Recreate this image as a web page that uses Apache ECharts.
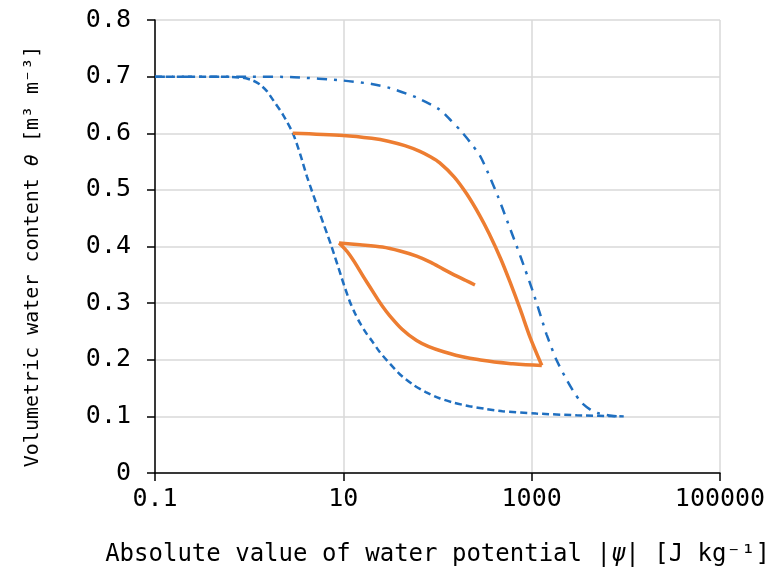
<!DOCTYPE html>
<html>
<head>
<meta charset="UTF-8">
<script src="https://cdn.jsdelivr.net/npm/echarts@6/dist/echarts.min.js"></script>
<style>
  html, body { margin: 0; padding: 0; background: #fff; }
  #chart { width: 777px; height: 570px; }
</style>
</head>
<body>
<div id="chart"></div>
<script>
// absolute water potential |psi| [J/kg] and water content theta [m3/m3]

// main wetting curve (dashed)
var wetPsi   = [0.1, 0.5, 0.86, 1.1, 1.3, 1.55, 1.79, 2.28, 2.91, 3.5, 4.1, 5.5, 7.5, 9.5, 10.5, 11.7, 13.2, 15, 17.5, 20, 24, 29, 40, 55, 75, 105, 150, 218, 330, 490, 1120, 3000, 9500];
var wetTheta = [0.7, 0.7, 0.698, 0.693, 0.686, 0.674, 0.659, 0.633, 0.600, 0.562, 0.524, 0.463, 0.400, 0.347, 0.325, 0.303, 0.283, 0.265, 0.247, 0.234, 0.215, 0.199, 0.174, 0.156, 0.143, 0.132, 0.124, 0.118, 0.113, 0.109, 0.105, 0.102, 0.100];

// main drying curve (dash-dot)
var dryPsi   = [0.1, 1, 3, 10, 20, 31, 60, 105, 140, 173, 220, 283, 340, 437, 550, 692, 850, 1023, 1276, 1445, 1841, 2400, 2857, 3400, 4200, 5000, 7000, 9300];
var dryTheta = [0.7, 0.7, 0.699, 0.693, 0.687, 0.680, 0.663, 0.642, 0.622, 0.606, 0.585, 0.560, 0.532, 0.489, 0.445, 0.401, 0.360, 0.322, 0.272, 0.244, 0.199, 0.162, 0.141, 0.124, 0.112, 0.106, 0.101, 0.100];

// scanning path (orange), in three legs: drying, wetting back, drying again
var scan1Psi   = [2.9, 10, 20, 30, 45, 65, 85, 105, 150, 204, 280, 355, 470, 590, 760, 955, 1280];
var scan1Theta = [0.600, 0.596, 0.591, 0.586, 0.578, 0.568, 0.558, 0.548, 0.523, 0.493, 0.455, 0.422, 0.378, 0.337, 0.288, 0.241, 0.190];
var scan2Psi   = [1280, 630, 300, 135, 60, 31, 17.8, 11.7, 9];
var scan2Theta = [0.190, 0.193, 0.199, 0.211, 0.234, 0.278, 0.337, 0.385, 0.406];
var scan3Psi   = [9, 15, 26, 40, 60, 85, 115, 150, 200, 250];
var scan3Theta = [0.406, 0.403, 0.399, 0.392, 0.383, 0.372, 0.360, 0.350, 0.340, 0.332];

var xTicks = [0.1, 10, 1000, 100000];
var yTicks = [0, 0.1, 0.2, 0.3, 0.4, 0.5, 0.6, 0.7, 0.8];

function pairs(px, th) {
  return px.map(function (p, i) { return [Math.log10(p), th[i]]; });
}

var font = 'DejaVu Sans Mono';
var blue = '#1F6FC0';
var orange = '#ED7D31';

function scanLeg(px, th, sm) {
  return {
    type: 'line',
    data: pairs(px, th),
    smooth: sm,
    showSymbol: false,
    lineStyle: { color: orange, width: 3.5 }
  };
}

var chart = echarts.init(document.getElementById('chart'));
chart.setOption({
  animation: false,
  backgroundColor: '#fff',
  grid: { left: 155, right: 57, top: 20, bottom: 97, containLabel: false, outerBoundsMode: 'none' },
  xAxis: {
    type: 'value',
    min: Math.log10(xTicks[0]),
    max: Math.log10(xTicks[xTicks.length - 1]),
    interval: 2,
    name: 'Absolute value of water potential |{i|ψ}| [J kg⁻¹]',
    nameLocation: 'middle',
    nameGap: 70,
    nameTextStyle: { fontFamily: font, fontSize: 24, color: '#000', rich: { i: { fontFamily: font, fontSize: 24, fontStyle: 'italic', color: '#000' } } },
    axisLine: { onZero: false, lineStyle: { color: '#000', width: 1.5 } },
    axisTick: { show: true, length: 8, lineStyle: { color: '#000', width: 1.5 } },
    axisLabel: {
      fontFamily: font, fontSize: 25, color: '#000', margin: 14,
      formatter: function (v) { return String(Math.pow(10, v)); }
    },
    splitLine: { show: true, lineStyle: { color: '#D9D9D9', width: 1.5 } }
  },
  yAxis: {
    type: 'value',
    min: yTicks[0],
    max: yTicks[yTicks.length - 1],
    interval: 0.1,
    name: 'Volumetric water content {i|θ} [m³ m⁻³]',
    nameLocation: 'middle',
    nameGap: 112,
    nameTextStyle: {
      fontFamily: font, fontSize: 20, color: '#000', padding: [0, 20, 0, 0],
      rich: { i: { fontFamily: font, fontSize: 20, fontStyle: 'italic', color: '#000' } }
    },
    axisLine: { show: true, onZero: false, lineStyle: { color: '#000', width: 1.5 } },
    axisTick: { show: true, length: 8, lineStyle: { color: '#000', width: 1.5 } },
    axisLabel: {
      fontFamily: font, fontSize: 25, color: '#000', margin: 24,
      formatter: function (v) { return v === 0 ? '0' : v.toFixed(1); }
    },
    splitLine: { show: true, lineStyle: { color: '#D9D9D9', width: 1.5 } }
  },
  series: [
    {
      name: 'wetting',
      type: 'line',
      data: pairs(wetPsi, wetTheta),
      smooth: 0.25,
      showSymbol: false,
      lineStyle: { color: blue, width: 2.5, type: [7, 4] }
    },
    {
      name: 'drying',
      type: 'line',
      data: pairs(dryPsi, dryTheta),
      smooth: 0.25,
      showSymbol: false,
      lineStyle: { color: blue, width: 2.5, type: [10, 7, 3, 7] }
    },
    scanLeg(scan1Psi, scan1Theta, 0.3),
    scanLeg(scan2Psi, scan2Theta, 0.4),
    scanLeg(scan3Psi, scan3Theta, 0.3)
  ]
});
</script>
</body>
</html>
